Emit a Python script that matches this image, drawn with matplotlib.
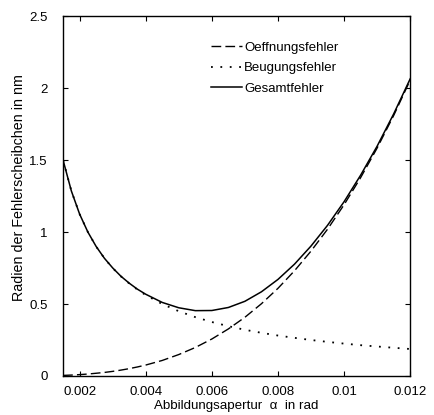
import matplotlib
matplotlib.use("Agg")
import matplotlib.pyplot as plt

plt.rcParams['font.family'] = ['Liberation Sans', 'DejaVu Sans']

alpha = [0.0015, 0.00175, 0.002, 0.00225, 0.0025, 0.00275, 0.003, 0.00325, 0.0035,
         0.00375, 0.004, 0.0045, 0.005, 0.0055, 0.006, 0.0065, 0.007, 0.0075, 0.008,
         0.0085, 0.009, 0.0095, 0.01, 0.0105, 0.011, 0.0115, 0.012]
oeffnung = [0.004, 0.0064, 0.0095, 0.0136, 0.019, 0.0247, 0.032, 0.0409, 0.051,
            0.0628, 0.076, 0.108, 0.149, 0.198, 0.257, 0.327, 0.408, 0.502, 0.609,
            0.731, 0.868, 1.020, 1.190, 1.378, 1.584, 1.810, 2.056]
beugung = [1.50, 1.286, 1.125, 1.0, 0.90, 0.818, 0.75, 0.692, 0.643, 0.60,
           0.5625, 0.50, 0.45, 0.409, 0.375, 0.346, 0.321, 0.30, 0.281,
           0.265, 0.25, 0.237, 0.225, 0.214, 0.205, 0.196, 0.1875]
gesamt = [1.50, 1.286, 1.125, 1.0, 0.90, 0.818, 0.751, 0.693, 0.645, 0.603,
          0.568, 0.511, 0.474, 0.454, 0.455, 0.476, 0.519, 0.585, 0.671,
          0.777, 0.903, 1.047, 1.211, 1.395, 1.597, 1.821, 2.065]

xticks = [0.002, 0.004, 0.006, 0.008, 0.01, 0.012]
xticklabels = ['0.002', '0.004', '0.006', '0.008', '0.01', '0.012']
yticks = [0, 0.5, 1, 1.5, 2, 2.5]
yticklabels = ['0', '0.5', '1', '1.5', '2', '2.5']

fig = plt.figure(figsize=(4.35, 4.15), dpi=100)
ax = fig.add_axes([0.145, 0.094, 0.798, 0.867])

ax.plot(alpha, oeffnung, color='black', linestyle=(0, (7, 3)), linewidth=1.0,
        label='Oeffnungsfehler')
ax.plot(alpha, beugung, color='black', linestyle=(0, (1, 4.2)), linewidth=1.3,
        label='Beugungsfehler')
ax.plot(alpha, gesamt, color='black', linestyle='-', linewidth=1.1,
        label='Gesamtfehler')

ax.set_xlim(0.0015, 0.012)
ax.set_ylim(0, 2.5)
ax.set_xticks(xticks)
ax.set_xticklabels(xticklabels)
ax.set_yticks(yticks)
ax.set_yticklabels(yticklabels)
ax.tick_params(direction='in', top=True, right=True, length=3.5, width=0.8,
               labelsize=9.5)
ax.tick_params(axis='x', pad=7)
ax.tick_params(axis='y', pad=11)
for s in ax.spines.values():
    s.set_linewidth(1.0)

ax.set_xlabel('Abbildungsapertur  \u03b1  in rad', fontsize=9.6, labelpad=2)
ax.set_ylabel('Radien der Fehlerscheibchen in nm', fontsize=10.3)
ax.yaxis.set_label_coords(-0.107, 0.525)

leg = ax.legend(loc='upper left', bbox_to_anchor=(0.40, 0.955), frameon=False,
                fontsize=9.5, handlelength=2.35, handletextpad=0.15,
                labelspacing=0.62, borderpad=0.2)

fig.savefig('out.png', dpi=100)
